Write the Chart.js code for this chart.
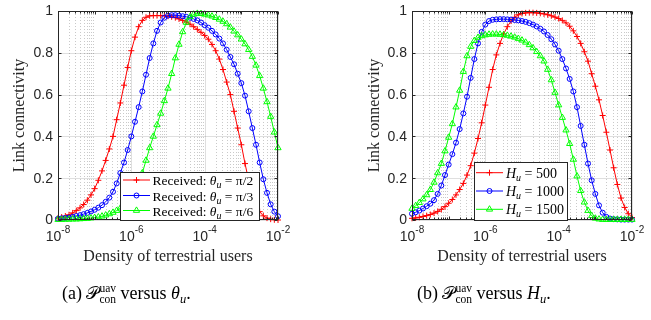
<!DOCTYPE html>
<html>
<head>
<meta charset="utf-8">
<script src="https://cdn.jsdelivr.net/npm/chart.js@4.4.1/dist/chart.umd.min.js"></script>
<style>
  html, body { margin: 0; padding: 0; background: #fff; }
  #wrap { position: relative; width: 651px; height: 320px; }
  .box { position: absolute; top: 0; height: 320px; }
</style>
</head>
<body>
<div id="wrap">
  <div class="box" style="left:0;width:325px"><canvas id="chartA"></canvas></div>
  <div class="box" style="left:325px;width:326px"><canvas id="chartB"></canvas></div>
</div>
<script>
// x grid: exponent of the density (10 points per decade)
const densityExp = [
  -8.0, -7.9, -7.8, -7.7, -7.6, -7.5, -7.4, -7.3, -7.2, -7.1,
  -7.0, -6.9, -6.8, -6.7, -6.6, -6.5, -6.4, -6.3, -6.2, -6.1,
  -6.0, -5.9, -5.8, -5.7, -5.6, -5.5, -5.4, -5.3, -5.2, -5.1,
  -5.0, -4.9, -4.8, -4.7, -4.6, -4.5, -4.4, -4.3, -4.2, -4.1,
  -4.0, -3.9, -3.8, -3.7, -3.6, -3.5, -3.4, -3.3, -3.2, -3.1,
  -3.0, -2.9, -2.8, -2.7, -2.6, -2.5, -2.4, -2.3, -2.2, -2.1,
  -2.0
];

// (a) link connectivity vs theta_u
const thetaHalfPi = [
  0.010, 0.014, 0.019, 0.025, 0.034, 0.045, 0.058, 0.074, 0.095, 0.120,
  0.150, 0.190, 0.235, 0.285, 0.340, 0.400, 0.480, 0.560, 0.645, 0.730,
  0.810, 0.875, 0.925, 0.955, 0.970, 0.977, 0.978, 0.978, 0.978, 0.977,
  0.975, 0.972, 0.968, 0.962, 0.955, 0.947, 0.937, 0.925, 0.912, 0.898,
  0.883, 0.865, 0.840, 0.810, 0.770, 0.720, 0.660, 0.600, 0.520, 0.440,
  0.360, 0.270, 0.190, 0.125, 0.075, 0.040, 0.020, 0.009, 0.004, 0.001,
  0.000
];
const thetaThirdPi = [
  0.006, 0.008, 0.010, 0.012, 0.015, 0.019, 0.023, 0.028, 0.034, 0.041,
  0.049, 0.059, 0.071, 0.087, 0.107, 0.135, 0.175, 0.225, 0.275, 0.335,
  0.400, 0.470, 0.540, 0.615, 0.695, 0.775, 0.845, 0.905, 0.945, 0.968,
  0.978, 0.980, 0.980, 0.978, 0.975, 0.972, 0.968, 0.962, 0.955, 0.945,
  0.932, 0.920, 0.905, 0.888, 0.868, 0.845, 0.815, 0.780, 0.745, 0.700,
  0.655, 0.595, 0.520, 0.440, 0.360, 0.275, 0.195, 0.130, 0.075, 0.040,
  0.018
];
const thetaSixthPi = [
  0.002, 0.002, 0.003, 0.003, 0.004, 0.004, 0.005, 0.006, 0.007, 0.009,
  0.011, 0.014, 0.018, 0.023, 0.029, 0.036, 0.045, 0.056, 0.070, 0.088,
  0.110, 0.138, 0.175, 0.225, 0.285, 0.345, 0.400, 0.455, 0.510, 0.570,
  0.630, 0.700, 0.775, 0.840, 0.900, 0.945, 0.972, 0.984, 0.988, 0.987,
  0.984, 0.980, 0.975, 0.968, 0.960, 0.950, 0.938, 0.922, 0.903, 0.885,
  0.865, 0.842, 0.815, 0.782, 0.740, 0.690, 0.630, 0.565, 0.495, 0.420,
  0.345
];

// (b) link connectivity vs H_u
const height500 = [
  0.008, 0.010, 0.013, 0.017, 0.021, 0.026, 0.033, 0.041, 0.051, 0.064,
  0.080, 0.098, 0.120, 0.146, 0.175, 0.215, 0.260, 0.320, 0.390, 0.465,
  0.550, 0.635, 0.720, 0.790, 0.845, 0.890, 0.925, 0.952, 0.970, 0.982,
  0.988, 0.991, 0.992, 0.992, 0.991, 0.989, 0.986, 0.982, 0.977, 0.971,
  0.964, 0.955, 0.943, 0.927, 0.905, 0.878, 0.845, 0.805, 0.760, 0.700,
  0.640, 0.575, 0.500, 0.420, 0.335, 0.250, 0.170, 0.105, 0.060, 0.030,
  0.012
];
const height1000 = [
  0.030, 0.037, 0.045, 0.055, 0.066, 0.078, 0.095, 0.125, 0.165, 0.215,
  0.265, 0.315, 0.370, 0.435, 0.510, 0.590, 0.680, 0.770, 0.845, 0.900,
  0.935, 0.952, 0.958, 0.960, 0.961, 0.961, 0.960, 0.959, 0.957, 0.955,
  0.952, 0.948, 0.942, 0.935, 0.926, 0.915, 0.902, 0.885, 0.865, 0.840,
  0.810, 0.770, 0.725, 0.675, 0.615, 0.540, 0.450, 0.360, 0.270, 0.190,
  0.125, 0.070, 0.035, 0.015, 0.007, 0.004, 0.003, 0.002, 0.002, 0.002,
  0.002
];
const height1500 = [
  0.055, 0.068, 0.083, 0.100, 0.120, 0.145, 0.180, 0.225, 0.270, 0.330,
  0.395, 0.460, 0.540, 0.620, 0.710, 0.785, 0.830, 0.858, 0.873, 0.881,
  0.885, 0.888, 0.889, 0.889, 0.888, 0.886, 0.883, 0.879, 0.874, 0.868,
  0.860, 0.850, 0.838, 0.823, 0.805, 0.785, 0.760, 0.720, 0.670, 0.610,
  0.550, 0.490, 0.430, 0.365, 0.290, 0.210, 0.140, 0.085, 0.045, 0.020,
  0.008, 0.004, 0.002, 0.002, 0.002, 0.002, 0.002, 0.002, 0.002, 0.002,
  0.002
];

const xTickExps = [-8, -6, -4, -2];
const yTicks = [0, 0.2, 0.4, 0.6, 0.8, 1];
const yTickLabels = ['0', '0.2', '0.4', '0.6', '0.8', '1'];

const SANS = "'Liberation Sans', Arial, sans-serif";
const SERIF = "'Liberation Serif', 'Times New Roman', serif";
const AXIS = '#262626';

const density = densityExp.map(e => Math.pow(10, e));
const toPoints = vals => vals.map((v, i) => ({ x: density[i], y: v }));

function drawRuns(ctx, x, y, runs) {
  runs.forEach(r => {
    ctx.font = r.font;
    if (r.sup !== undefined) {
      ctx.fillText(r.sup, x, y + r.supDy);
      ctx.fillText(r.sub, x, y + r.subDy);
      x += Math.max(ctx.measureText(r.sup).width, ctx.measureText(r.sub).width);
    } else {
      ctx.fillText(r.t, x, y + (r.dy || 0));
      x += ctx.measureText(r.t).width;
    }
  });
  return x;
}

const markerRadius = { cross: 3, circle: 2.5, triangle: 3.6 };
function drawMarker(ctx, style, x, y, color) {
  ctx.save();
  ctx.strokeStyle = color;
  ctx.fillStyle = 'rgba(0,0,0,0)';
  ctx.lineWidth = 1;
  Chart.helpers.drawPoint(ctx, {
    pointStyle: style, radius: markerRadius[style], rotation: 0, borderWidth: 1
  }, x, y);
  ctx.restore();
}

// grid, box, ticks, labels, legend and caption
function makeDeco(cfg) {
  const seg = (ctx, x1, y1, x2, y2) => { ctx.beginPath(); ctx.moveTo(x1, y1); ctx.lineTo(x2, y2); ctx.stroke(); };
  return {
    id: 'deco',
    beforeDatasetsDraw(chart) {
      const { ctx, chartArea: a, scales: { x, y } } = chart;
      ctx.save();
      ctx.lineWidth = 1;
      ctx.strokeStyle = 'rgba(38,38,38,0.25)';
      ctx.setLineDash([1, 2]);
      for (let e = -8; e < -2; e++) {
        for (let k = 2; k <= 9; k++) {
          const px = Math.round(x.getPixelForValue(k * Math.pow(10, e))) + 0.5;
          seg(ctx, px, a.top, px, a.bottom);
        }
      }
      ctx.setLineDash([]);
      ctx.strokeStyle = 'rgba(38,38,38,0.15)';
      xTickExps.forEach(e => {
        const px = Math.round(x.getPixelForValue(Math.pow(10, e))) + 0.5;
        seg(ctx, px, a.top, px, a.bottom);
      });
      yTicks.forEach(v => {
        const py = Math.round(y.getPixelForValue(v)) + 0.5;
        seg(ctx, a.left, py, a.right, py);
      });
      ctx.restore();
    },
    afterDatasetsDraw(chart) {
      const { ctx, chartArea: a, scales: { x, y } } = chart;
      const L = Math.round(a.left) + 0.5, R = Math.round(a.right) - 0.5;
      const T = Math.round(a.top) + 0.5, B = Math.round(a.bottom) - 0.5;
      ctx.save();
      ctx.lineWidth = 1;
      ctx.strokeStyle = AXIS;
      // ticks (inside, mirrored)
      for (let e = -8; e <= -2; e++) {
        for (let k = 1; k <= 9; k++) {
          if (e === -2 && k > 1) break;
          const px = Math.round(x.getPixelForValue(k * Math.pow(10, e))) + 0.5;
          const len = k === 1 ? 3 : 2;
          seg(ctx, px, B, px, B - len);
          seg(ctx, px, T, px, T + len);
        }
      }
      yTicks.forEach(v => {
        const py = Math.round(y.getPixelForValue(v)) + 0.5;
        seg(ctx, L, py, L + 3, py);
        seg(ctx, R, py, R - 3, py);
      });
      ctx.strokeRect(L, T, R - L, B - T);

      // tick labels
      ctx.fillStyle = AXIS;
      ctx.font = '14px ' + SANS;
      ctx.textAlign = 'right';
      ctx.textBaseline = 'middle';
      yTicks.forEach((v, i) => ctx.fillText(yTickLabels[i], a.left - 5, y.getPixelForValue(v) + 0.5));
      ctx.textAlign = 'left';
      ctx.textBaseline = 'alphabetic';
      xTickExps.forEach(e => {
        const px = x.getPixelForValue(Math.pow(10, e));
        ctx.font = '14px ' + SANS;
        const wb = ctx.measureText('10').width;
        ctx.font = '10px ' + SANS;
        const we = ctx.measureText(String(e)).width;
        const x0 = px - (wb + we) / 2;
        ctx.font = '14px ' + SANS;
        ctx.fillText('10', x0, a.bottom + 21);
        ctx.font = '10px ' + SANS;
        ctx.fillText(String(e), x0 + wb, a.bottom + 13);
      });

      // axis titles
      ctx.font = '16px ' + SERIF;
      ctx.textAlign = 'center';
      ctx.fillText('Density of terrestrial users', (a.left + a.right) / 2, 261);
      ctx.save();
      ctx.translate(cfg.yTitleX, (a.top + a.bottom) / 2);
      ctx.rotate(-Math.PI / 2);
      ctx.fillText('Link connectivity', 0, 0);
      ctx.restore();

      // legend
      const lg = cfg.legend;
      ctx.fillStyle = '#fff';
      ctx.fillRect(lg.x1, lg.y1, lg.x2 - lg.x1, lg.y2 - lg.y1);
      ctx.strokeStyle = AXIS;
      ctx.strokeRect(lg.x1 + 0.5, lg.y1 + 0.5, lg.x2 - lg.x1 - 1, lg.y2 - lg.y1 - 1);
      chart.data.datasets.forEach((ds, i) => {
        const ry = lg.rows[i];
        ctx.strokeStyle = ds.borderColor;
        ctx.lineWidth = 1;
        seg(ctx, lg.s1, ry, lg.s2, ry);
        drawMarker(ctx, ds.pointStyle, (lg.s1 + lg.s2) / 2, ry, ds.borderColor);
        ctx.fillStyle = '#000';
        ctx.textAlign = 'left';
        drawRuns(ctx, lg.tx, ry + 5, cfg.legendRuns[i]);
      });

      // caption
      ctx.fillStyle = '#000';
      ctx.textAlign = 'left';
      drawRuns(ctx, cfg.captionX, 299, cfg.caption);
      ctx.restore();
    }
  };
}

function makeChart(id, series, cfg) {
  return new Chart(document.getElementById(id), {
    type: 'line',
    data: {
      datasets: series.map((s, i) => ({
        label: s.label,
        data: toPoints(s.values),
        borderColor: s.color,
        borderWidth: 1,
        pointStyle: s.marker,
        pointRadius: markerRadius[s.marker],
        pointBorderWidth: 1,
        pointBorderColor: s.color,
        pointBackgroundColor: 'rgba(0,0,0,0)',
        fill: false,
        tension: 0,
        clip: false,
        order: series.length - i
      }))
    },
    options: {
      responsive: true,
      maintainAspectRatio: false,
      animation: false,
      events: [],
      layout: { padding: cfg.padding },
      scales: {
        x: { type: 'logarithmic', min: 1e-8, max: 1e-2, display: false },
        y: { type: 'linear', min: 0, max: 1, display: false }
      },
      plugins: { legend: { display: false }, tooltip: { enabled: false } }
    },
    plugins: [makeDeco(cfg)]
  });
}

const f13 = '13.5px ' + SERIF, i13 = 'italic 13.5px ' + SERIF;
const f14 = '14px ' + SERIF, i14 = 'italic 14px ' + SERIF, i10 = 'italic 10px ' + SERIF;
const captionHead = tag => [
  { t: tag + ' ', font: '18px ' + SERIF },
  { t: '\u{1D4AB}', font: '18px ' + SERIF },
  { sup: 'uav', sub: 'con', supDy: -7, subDy: 4, font: '11.5px ' + SERIF },
  { t: ' versus ', font: '18px ' + SERIF }
];

makeChart('chartA', [
  { label: 'Received: θu = π/2', values: thetaHalfPi, color: '#ff0000', marker: 'cross' },
  { label: 'Received: θu = π/3', values: thetaThirdPi, color: '#0000ff', marker: 'circle' },
  { label: 'Received: θu = π/6', values: thetaSixthPi, color: '#00ff00', marker: 'triangle' }
], {
  padding: { left: 58, right: 47, top: 11, bottom: 100 },
  yTitleX: 24,
  legend: { x1: 120, y1: 172, x2: 260, y2: 221, rows: [180, 195.5, 210.5], s1: 123, s2: 150, tx: 152.5 },
  legendRuns: ['π/2', 'π/3', 'π/6'].map(p => [
    { t: 'Received: ', font: f13 }, { t: 'θ', font: i13 }, { t: 'u', font: i10, dy: 3 }, { t: ' = ' + p, font: f13 }
  ]),
  captionX: 62,
  caption: captionHead('(a)').concat([
    { t: 'θ', font: 'italic 18px ' + SERIF }, { t: 'u', font: 'italic 12.5px ' + SERIF, dy: 4 }, { t: '.', font: '18px ' + SERIF }
  ])
});

makeChart('chartB', [
  { label: 'Hu = 500', values: height500, color: '#ff0000', marker: 'cross' },
  { label: 'Hu = 1000', values: height1000, color: '#0000ff', marker: 'circle' },
  { label: 'Hu = 1500', values: height1500, color: '#00ff00', marker: 'triangle' }
], {
  padding: { left: 87, right: 19, top: 11, bottom: 100 },
  yTitleX: 54,
  legend: { x1: 149, y1: 162, x2: 243, y2: 221, rows: [172.7, 191, 209.3], s1: 151, s2: 178, tx: 181 },
  legendRuns: ['500', '1000', '1500'].map(h => [
    { t: 'H', font: i14 }, { t: 'u', font: i10, dy: 3 }, { t: ' = ' + h, font: f14 }
  ]),
  captionX: 92,
  caption: captionHead('(b)').concat([
    { t: 'H', font: 'italic 18px ' + SERIF }, { t: 'u', font: 'italic 12.5px ' + SERIF, dy: 4 }, { t: '.', font: '18px ' + SERIF }
  ])
});
</script>
</body>
</html>
